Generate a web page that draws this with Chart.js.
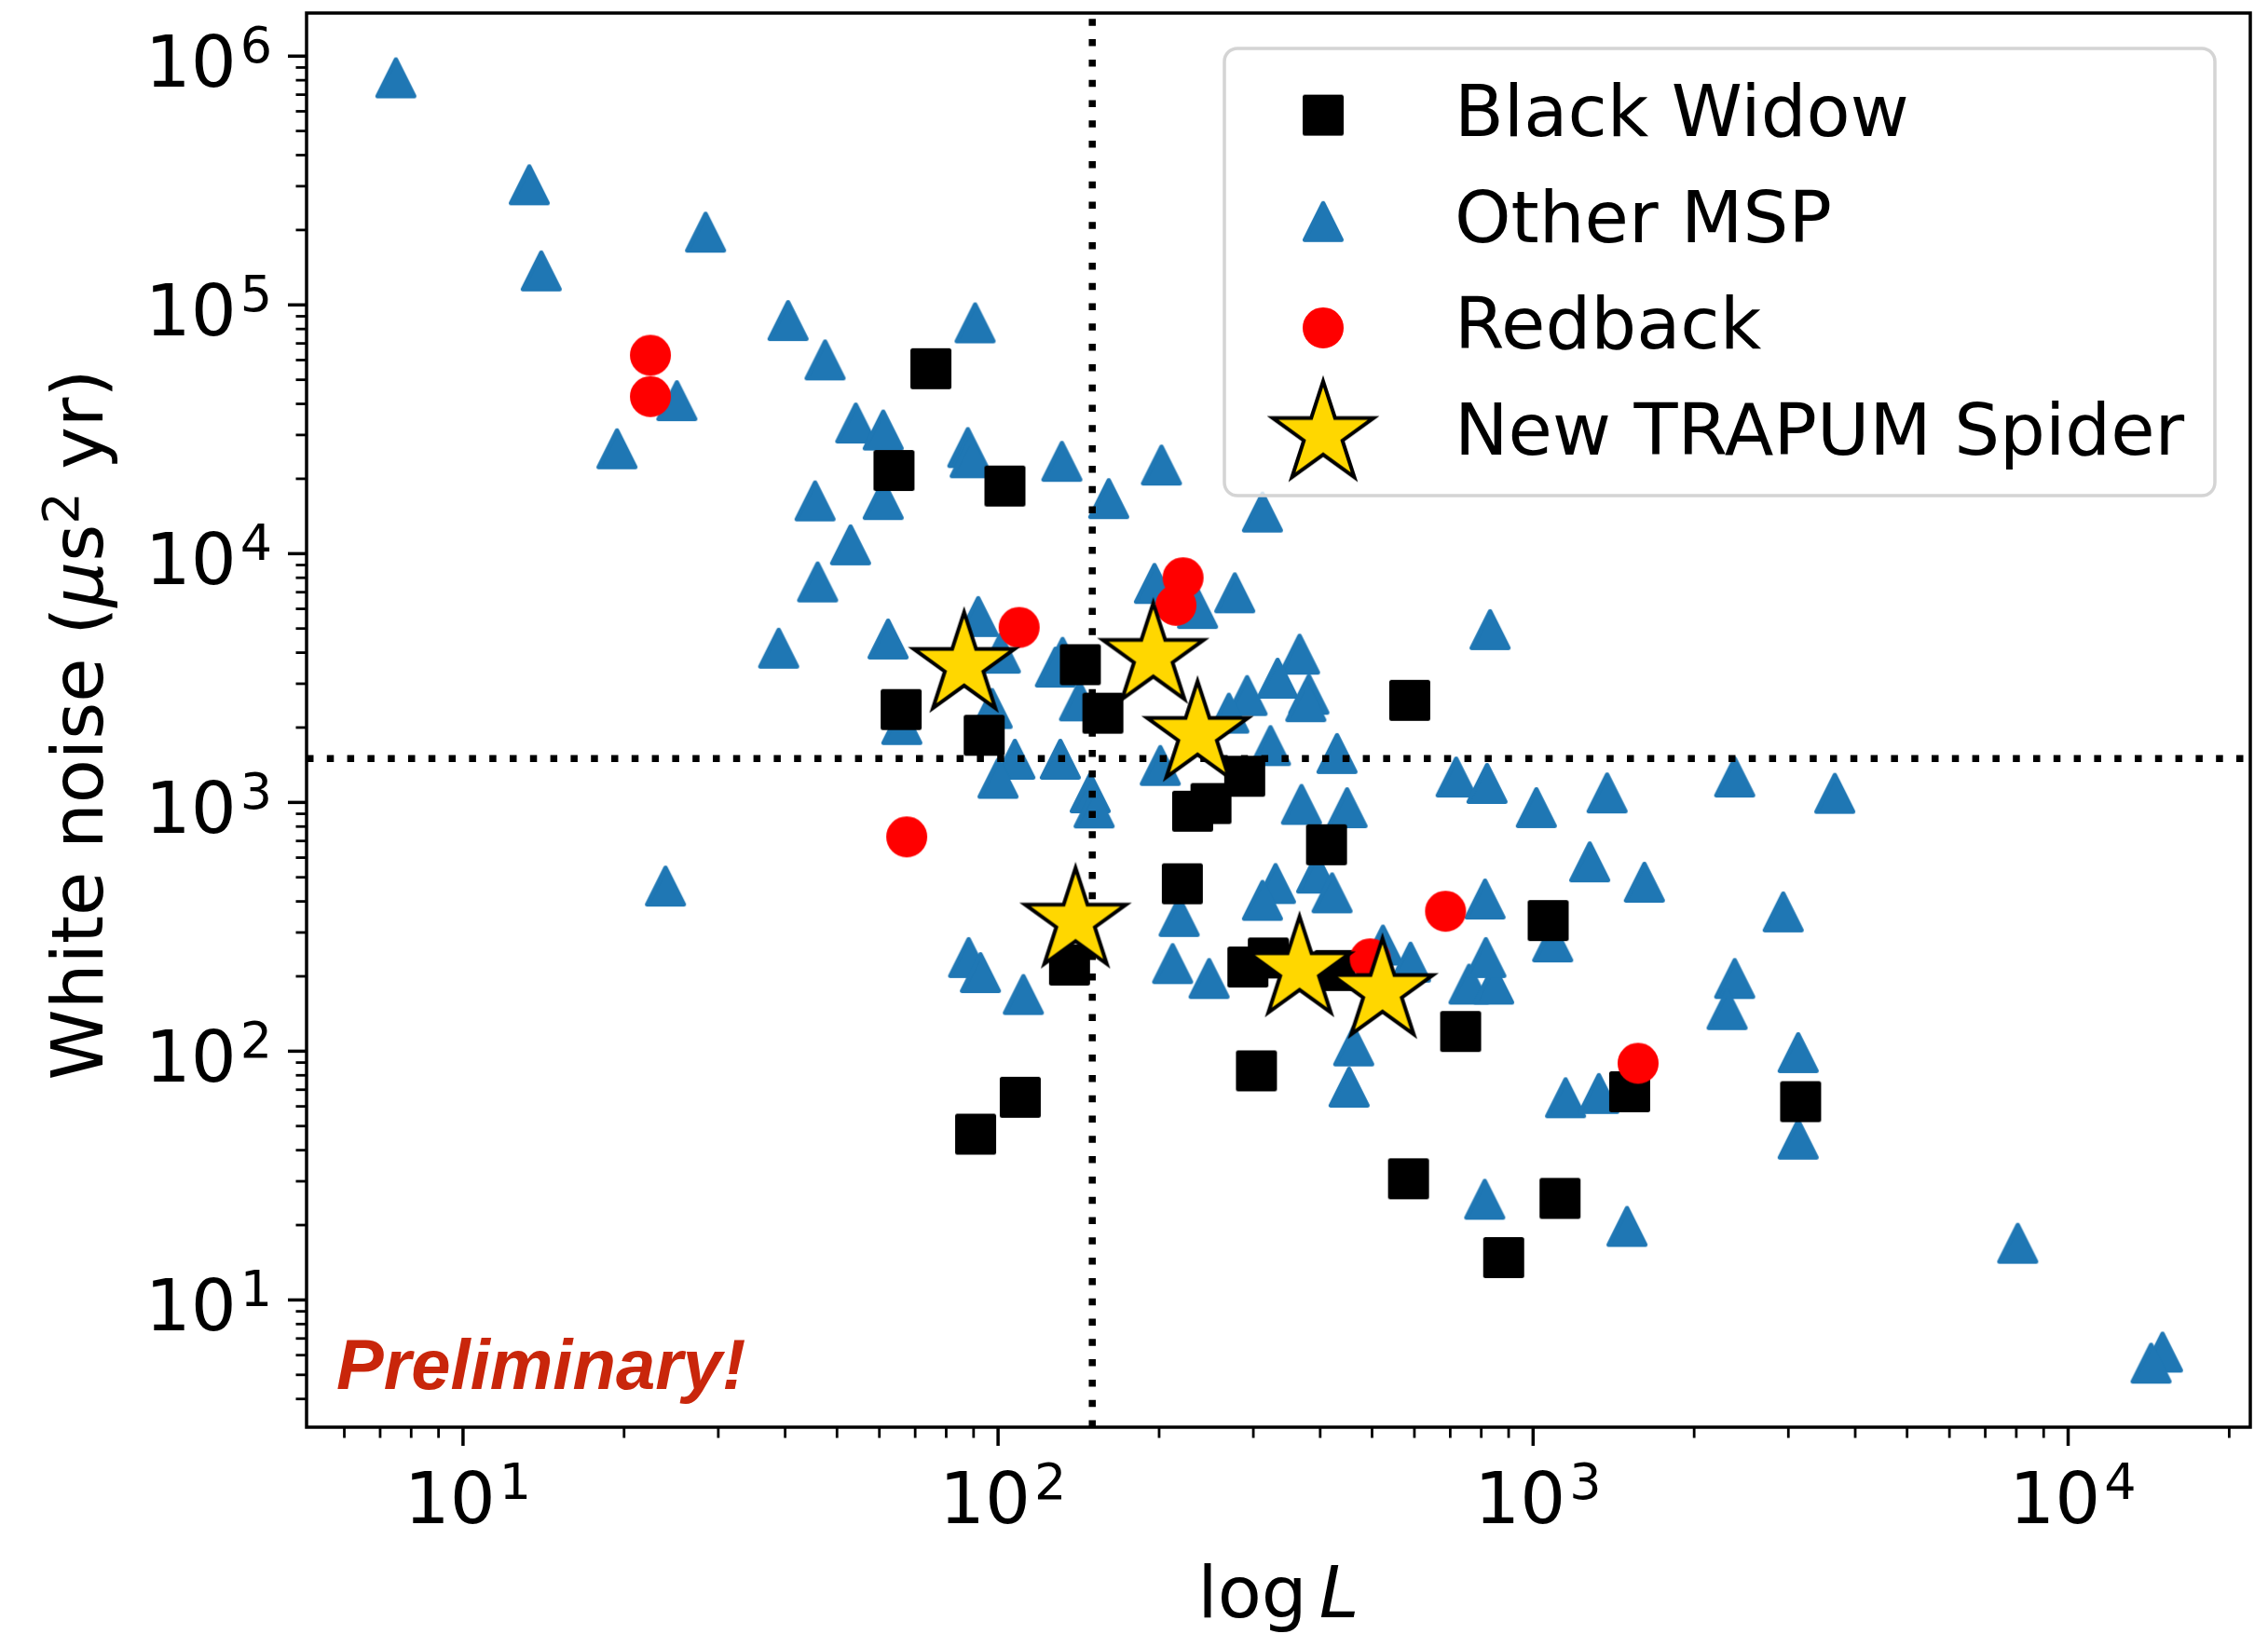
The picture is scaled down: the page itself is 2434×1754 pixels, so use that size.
<!DOCTYPE html>
<html>
<head>
<meta charset="utf-8">
<title>White noise vs log L</title>
<style>
  html, body { margin: 0; padding: 0; background: #ffffff; }
  #wrap { width: 2434px; height: 1754px; }
</style>
<script src="https://cdn.jsdelivr.net/npm/chart.js@4.4.1/dist/chart.umd.min.js"></script>
</head>
<body>
<div id="wrap"><canvas id="chart" width="2434" height="1754"></canvas></div>
<script>
// ---------------- data ----------------
const seriesLabels = ['Black Widow', 'Other MSP', 'Redback', 'New TRAPUM Spider'];

const blackWidowL  = [74.9, 63.9, 103, 142.5, 65.9, 94.2, 157, 588, 289, 250, 231, 411, 221, 136, 293, 320, 426, 732, 304, 110, 90.8, 1067, 585, 1123, 881, 1515, 3162];
const blackWidowWN = [5.54e4, 2.16e4, 1.87e4, 3580, 2362, 1862, 2284, 2573, 1274, 990, 922, 676, 471, 222, 218, 237, 211, 120, 83.4, 65.3, 46.4, 335, 30.7, 25.6, 14.8, 68.7, 62.7];

const otherL  = [7.49, 13.3, 14.0, 28.4, 25.1, 19.4, 40.5, 47.5, 90.6, 54.2, 61.0, 45.5, 61.0, 87.8, 88.7, 131.6, 161, 202, 312, 53.0,
                 46.0, 38.9, 62.3, 91.8, 101, 97.5, 66.1, 107.5, 100, 130.7, 148.7, 151.2, 132, 128, 142, 196, 236, 277, 366, 333,
                 381, 376, 292, 270, 323, 430, 201, 718, 820, 369, 449, 330, 312, 394, 421, 218, 88.1, 92.7, 111.5, 212,
                 248, 524, 590, 759, 844, 462, 453, 831, 1014, 1375, 2381, 3663, 1276, 1614, 2934, 813, 1088, 816, 1150, 1327,
                 2381, 2305, 3129, 3129, 1498, 8050, 15010, 14290, 812, 23.9];
const otherWN = [8.18e5, 3.04e5, 1.37e5, 1.96e5, 4.12e4, 2.64e4, 8.65e4, 6.01e4, 8.47e4, 3.35e4, 3.14e4, 1.63e4, 1.65e4, 2.67e4, 2.43e4, 2.35e4, 1.665e4, 2.27e4, 1.47e4, 1.085e4,
                 7700, 4170, 4540, 5590, 3980, 2385, 2057, 1492, 1250, 1492, 1093, 950, 3830, 3500, 2560, 7590, 6020, 6960, 3945, 3158,
                 2720, 2540, 2690, 2285, 1692, 1573, 1408, 1265, 1192, 982, 952, 472, 404, 520, 433, 348, 238, 207, 169, 225,
                 196, 267, 228, 186, 186, 105, 71.7, 4950, 953, 1092, 1265, 1088, 577, 478, 363, 409, 275, 238, 65, 67.6,
                 196, 147, 98.7, 44.3, 19.75, 16.9, 6.17, 5.57, 25.4, 461];

const redbackL  = [22.4, 22.4, 221.7, 215, 109.5, 67.5, 686, 496, 1571];
const redbackWN = [6.27e4, 4.28e4, 8000, 6200, 5050, 727, 365, 235, 89.4];

const spiderL  = [86.4, 195, 236, 139.6, 366, 523];
const spiderWN = [3560, 3870, 1880, 334, 213, 174];

// reference cuts
const cutL  = 150;
const cutWN = 1500;

// axis limits and tick labels
const xLimits = [5.1, 21900];
const yLimits = [3.08, 1.49e6];
const xTickExponents = [1, 2, 3, 4];
const yTickExponents = [1, 2, 3, 4, 5, 6];
const minorMantissas = [2, 3, 4, 5, 6, 7, 8, 9];
const xTitleMain = 'log';
const xTitleVar = 'L';
const yTitleParts = ['White noise (', 'μ', 's', '2', ' yr)'];
const watermark = 'Preliminary!';

// ---------------- marker glyphs ----------------
function makeMarker(size, draw) {
  const c = document.createElement('canvas');
  c.width = size; c.height = size;
  const g = c.getContext('2d');
  g.translate(size / 2, size / 2);
  draw(g);
  return c;
}
const squareMarker = makeMarker(50, g => {
  g.fillStyle = '#000000'; g.strokeStyle = '#000000';
  g.lineWidth = 5; g.lineJoin = 'round';
  g.beginPath(); g.rect(-19.5, -19.5, 39, 39); g.fill(); g.stroke();
});
const triangleMarker = makeMarker(50, g => {
  g.fillStyle = '#1f77b4'; g.strokeStyle = '#1f77b4';
  g.lineWidth = 5; g.lineJoin = 'round';
  g.beginPath(); g.moveTo(0, -19.5); g.lineTo(-19.5, 19.5); g.lineTo(19.5, 19.5); g.closePath();
  g.fill(); g.stroke();
});
const circleMarker = makeMarker(50, g => {
  g.fillStyle = '#ff0000'; g.strokeStyle = '#ff0000'; g.lineWidth = 5;
  g.beginPath(); g.arc(0, 0, 19.5, 0, Math.PI * 2); g.fill(); g.stroke();
});
const starMarker = makeMarker(150, g => {
  const R = 57, r = R * 0.381966;
  g.beginPath();
  for (let i = 0; i < 10; i++) {
    const rad = (i % 2 === 0) ? R : r;
    const a = -Math.PI / 2 + i * Math.PI / 5;
    const px = rad * Math.cos(a), py = rad * Math.sin(a);
    if (i === 0) g.moveTo(px, py); else g.lineTo(px, py);
  }
  g.closePath();
  g.fillStyle = '#ffd700'; g.fill();
  g.lineWidth = 4; g.lineJoin = 'miter'; g.miterLimit = 10; g.strokeStyle = '#000000'; g.stroke();
});

const toPoints = (xs, ys) => xs.map((x, i) => ({ x, y: ys[i] }));

// ---------------- decorations: frame, ticks, labels, legend ----------------
const FONT = '"DejaVu Sans", sans-serif';
const MAIN = '77px ' + FONT;
const SUP = '54px ' + FONT;
const ITAL = 'italic 77px ' + FONT;

function drawPower(ctx, exp, x, baseline, align) {
  ctx.font = MAIN;
  const wb = ctx.measureText('10').width;
  ctx.font = SUP;
  const ws = ctx.measureText(String(exp)).width;
  const gap = 4;
  const total = wb + gap + ws;
  const x0 = align === 'right' ? x - total : x - total / 2;
  ctx.textAlign = 'left'; ctx.textBaseline = 'alphabetic';
  ctx.font = MAIN; ctx.fillText('10', x0, baseline);
  ctx.font = SUP; ctx.fillText(String(exp), x0 + wb + gap, baseline - 26);
}

const decorations = {
  id: 'decorations',
  afterDraw(chart) {
    const ctx = chart.ctx;
    const { left, right, top, bottom } = chart.chartArea;
    const xs = chart.scales.x, ys = chart.scales.y;
    ctx.save();
    ctx.fillStyle = '#000000';
    ctx.strokeStyle = '#000000';

    // tick marks
    const majLen = 20, minLen = 11.5;
    const decadesX = [];
    for (let k = Math.floor(Math.log10(xLimits[0])); k <= Math.ceil(Math.log10(xLimits[1])); k++) decadesX.push(k);
    const decadesY = [];
    for (let k = Math.floor(Math.log10(yLimits[0])); k <= Math.ceil(Math.log10(yLimits[1])); k++) decadesY.push(k);

    ctx.lineCap = 'butt';
    ctx.lineWidth = 2.8;
    decadesX.forEach(k => minorMantissas.forEach(m => {
      const v = m * Math.pow(10, k);
      if (v < xLimits[0] || v > xLimits[1]) return;
      const px = xs.getPixelForValue(v);
      ctx.beginPath(); ctx.moveTo(px, bottom); ctx.lineTo(px, bottom + minLen); ctx.stroke();
    }));
    decadesY.forEach(k => minorMantissas.forEach(m => {
      const v = m * Math.pow(10, k);
      if (v < yLimits[0] || v > yLimits[1]) return;
      const py = ys.getPixelForValue(v);
      ctx.beginPath(); ctx.moveTo(left, py); ctx.lineTo(left - minLen, py); ctx.stroke();
    }));
    ctx.lineWidth = 3.5;
    xTickExponents.forEach(e => {
      const px = xs.getPixelForValue(Math.pow(10, e));
      ctx.beginPath(); ctx.moveTo(px, bottom); ctx.lineTo(px, bottom + majLen); ctx.stroke();
      drawPower(ctx, e, px + 5, 1635, 'center');
    });
    yTickExponents.forEach(e => {
      const py = ys.getPixelForValue(Math.pow(10, e));
      ctx.beginPath(); ctx.moveTo(left, py); ctx.lineTo(left - majLen, py); ctx.stroke();
      drawPower(ctx, e, 292, py + 33, 'right');
    });

    // frame
    ctx.lineWidth = 3.5;
    ctx.strokeRect(left, top, right - left, bottom - top);

    // x title: log L
    ctx.textBaseline = 'alphabetic'; ctx.textAlign = 'left';
    ctx.font = MAIN;
    const wLog = ctx.measureText(xTitleMain).width;
    ctx.font = ITAL;
    const wL = ctx.measureText(xTitleVar).width;
    const thin = 13;
    const cx = (left + right) / 2;
    let x0 = cx - (wLog + thin + wL) / 2;
    ctx.font = MAIN; ctx.fillText(xTitleMain, x0, 1736);
    ctx.font = ITAL; ctx.fillText(xTitleVar, x0 + wLog + thin, 1736);

    // y title, rotated
    const styles = [MAIN, ITAL, MAIN, SUP, MAIN];
    const raise = [0, 0, 0, 26, 0];
    const widths = yTitleParts.map((t, i) => { ctx.font = styles[i]; return ctx.measureText(t).width; });
    const totalW = widths.reduce((a, b) => a + b, 0);
    ctx.save();
    ctx.translate(110, (top + bottom) / 2 + 5);
    ctx.rotate(-Math.PI / 2);
    let tx = -totalW / 2;
    yTitleParts.forEach((t, i) => {
      ctx.font = styles[i];
      ctx.fillText(t, tx, -raise[i]);
      tx += widths[i];
    });
    ctx.restore();

    // watermark
    ctx.font = 'italic bold 76px "Liberation Sans", Arial, sans-serif';
    ctx.fillStyle = '#c9260b';
    ctx.fillText(watermark, 361, 1491);

    // legend
    const lx = 1314, ly = 52, lw = 1063, lh = 480;
    ctx.beginPath();
    ctx.roundRect(lx, ly, lw, lh, 14);
    ctx.fillStyle = 'rgba(255,255,255,0.8)';
    ctx.fill();
    ctx.lineWidth = 3.5;
    ctx.strokeStyle = '#d4d4d4';
    ctx.stroke();

    const entries = chart.data.datasets.filter(d => d.inLegend);
    entries.forEach((d, i) => {
      const my = 123.6 + i * 114.2;
      const img = d.pointStyle;
      ctx.drawImage(img, 1420 - img.width / 2, my - img.height / 2);
      ctx.fillStyle = '#000000';
      ctx.font = MAIN;
      ctx.fillText(d.label, 1561, 145.5 + i * 114.2);
    });
    ctx.restore();
  }
};

// ---------------- chart ----------------
new Chart(document.getElementById('chart'), {
  type: 'scatter',
  data: {
    datasets: [
      { label: seriesLabels[0], data: toPoints(blackWidowL, blackWidowWN), pointStyle: squareMarker,
        pointRadius: 22, pointHoverRadius: 22, order: 3, inLegend: true },
      { label: seriesLabels[1], data: toPoints(otherL, otherWN), pointStyle: triangleMarker,
        pointRadius: 22, pointHoverRadius: 22, order: 4, inLegend: true },
      { label: seriesLabels[2], data: toPoints(redbackL, redbackWN), pointStyle: circleMarker,
        pointRadius: 22, pointHoverRadius: 22, order: 2, inLegend: true },
      { label: seriesLabels[3], data: toPoints(spiderL, spiderWN), pointStyle: starMarker,
        pointRadius: 60, pointHoverRadius: 60, order: 0, inLegend: true },
      { type: 'line', label: 'L cut', data: [{ x: cutL, y: yLimits[0] }, { x: cutL, y: yLimits[1] }],
        borderColor: '#000000', borderWidth: 7.5, borderDash: [7.5, 14.3], borderCapStyle: 'butt',
        pointRadius: 0, fill: false, tension: 0, order: 1 },
      { type: 'line', label: 'WN cut', data: [{ x: xLimits[0], y: cutWN }, { x: xLimits[1], y: cutWN }],
        borderColor: '#000000', borderWidth: 7.5, borderDash: [7.5, 14.3], borderCapStyle: 'butt',
        pointRadius: 0, fill: false, tension: 0, order: 1 }
    ]
  },
  options: {
    responsive: false,
    animation: false,
    devicePixelRatio: 1,
    layout: { autoPadding: false, padding: { top: 14, right: 19, left: 0, bottom: 0 } },
    plugins: { legend: { display: false }, tooltip: { enabled: false } },
    scales: {
      x: {
        type: 'logarithmic', min: xLimits[0], max: xLimits[1],
        grid: { display: false, drawTicks: false }, border: { display: false },
        ticks: { display: false },
        afterFit(s) { s.height = 222; }
      },
      y: {
        type: 'logarithmic', min: yLimits[0], max: yLimits[1],
        grid: { display: false, drawTicks: false }, border: { display: false },
        ticks: { display: false },
        afterFit(s) { s.width = 329; }
      }
    }
  },
  plugins: [decorations]
});
</script>
</body>
</html>
